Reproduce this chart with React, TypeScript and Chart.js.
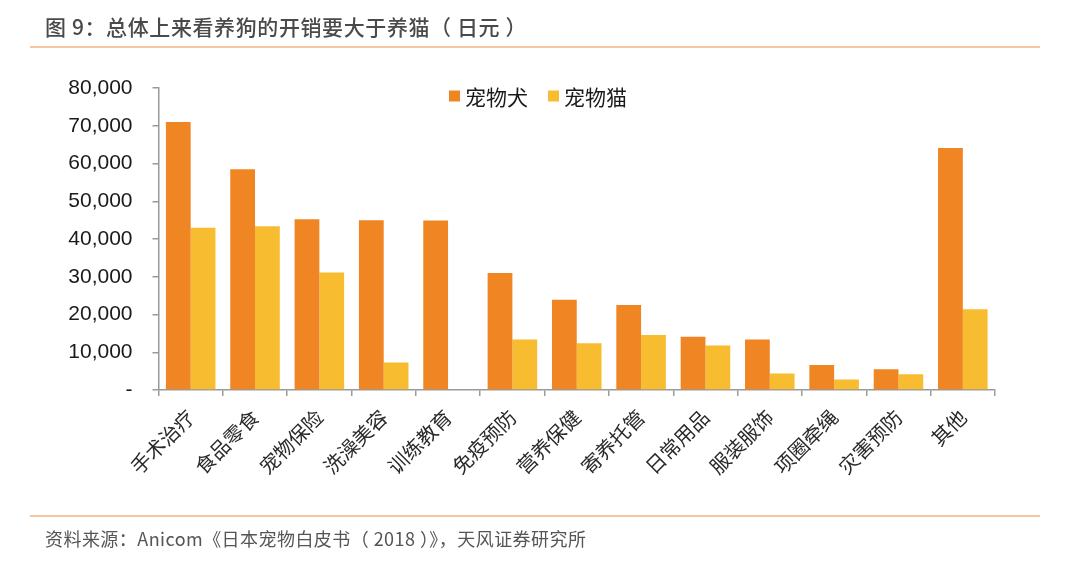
import React, { useEffect, useRef } from "react";
import { Chart, registerables } from "chart.js";

Chart.register(...registerables);

const categories = [
  "手术治疗", "食品零食", "宠物保险", "洗澡美容", "训练教育", "免疫预防", "营养保健",
  "寄养托管", "日常用品", "服装服饰", "项圈牵绳", "灾害预防", "其他",
];
const dogValues = [71000, 58500, 45200, 45000, 44900, 31000, 23900, 22500, 14100, 13400, 6600, 5500, 64100];
const catValues = [43000, 43400, 31100, 7300, 0, 13400, 12400, 14600, 11800, 4400, 2800, 4200, 21400];
const seriesLabels = ["宠物犬", "宠物猫"];
const seriesColors = ["#F08523", "#F7BC2F"];
const yTicks = [0, 10000, 20000, 30000, 40000, 50000, 60000, 70000, 80000];

const W = 1080;
const H = 563;
const AREA_LEFT = 158.5;
const AREA_RIGHT = 995;
const AREA_TOP = 88;
const AREA_BOTTOM = 390;

const legendPlugin = {
  id: "customLegend",
  afterDraw(chart: any) {
    const ctx = chart.ctx;
    const font = '21px "Noto Sans CJK SC", sans-serif';
    ctx.save();
    ctx.font = font;
    const box = 11;
    const gapBox = 5;
    const gapItem = 20;
    const items = chart.data.datasets.map((d: any) => ({
      label: d.label,
      color: d.backgroundColor,
      w: box + gapBox + ctx.measureText(d.label).width,
    }));
    const total = items.reduce((s: number, it: any) => s + it.w, 0) + gapItem * (items.length - 1);
    let x = chart.width / 2 - total / 2 - 2;
    const cy = 96;
    items.forEach((it: any) => {
      ctx.fillStyle = it.color;
      ctx.fillRect(x, cy - box / 2, box, box);
      ctx.fillStyle = "#1a1a1a";
      ctx.textBaseline = "middle";
      ctx.textAlign = "left";
      ctx.fillText(it.label, x + box + gapBox, cy + 1);
      x += it.w + gapItem;
    });
    ctx.restore();
  },
};

export default function App() {
  const ref = useRef<HTMLCanvasElement | null>(null);

  useEffect(() => {
    document.body.style.margin = "0";
    const canvas = ref.current;
    if (!canvas) return;
    const chart = new Chart(canvas, {
      type: "bar",
      data: {
        labels: categories,
        datasets: [
          { label: seriesLabels[0], data: dogValues, backgroundColor: seriesColors[0], categoryPercentage: 0.77, barPercentage: 1.0 },
          { label: seriesLabels[1], data: catValues, backgroundColor: seriesColors[1], categoryPercentage: 0.77, barPercentage: 1.0 },
        ],
      },
      options: {
        responsive: false,
        animation: false,
        layout: { padding: { top: AREA_TOP, right: W - AREA_RIGHT, bottom: 0, left: 0 } },
        plugins: {
          legend: { display: false },
          tooltip: { enabled: false },
          title: { display: false },
        },
        scales: {
          x: {
            type: "category",
            offset: true,
            grid: {
              offset: true,
              drawOnChartArea: false,
              drawTicks: true,
              tickLength: 6,
              color: "#9a9a9a",
              lineWidth: 1.5,
            },
            border: { display: true, color: "#9a9a9a", width: 1.5 },
            ticks: {
              minRotation: 45,
              maxRotation: 45,
              autoSkip: false,
              padding: 9,
              color: "#2a2a2a",
              font: { family: '"Noto Sans CJK SC", sans-serif', size: 20 },
            },
            afterFit(scale: any) {
              scale.height = H - AREA_BOTTOM;
            },
          },
          y: {
            min: 0,
            max: 80000,
            grid: {
              drawOnChartArea: false,
              drawTicks: true,
              tickLength: 6,
              color: "#9a9a9a",
              lineWidth: 1.5,
            },
            border: { display: true, color: "#9a9a9a", width: 1.5 },
            afterBuildTicks(scale: any) {
              scale.ticks = yTicks.map((v) => ({ value: v }));
            },
            ticks: {
              padding: 20,
              color: "#1a1a1a",
              font: { family: '"Liberation Sans", Arial, sans-serif', size: 21 },
              callback: (v: any) => (Number(v) === 0 ? "-" : Number(v).toLocaleString("en-US")),
            },
            afterFit(scale: any) {
              scale.width = AREA_LEFT;
            },
          },
        },
      },
      plugins: [legendPlugin],
    });
    return () => chart.destroy();
  }, []);

  return (
    <div style={{ position: "relative", width: W, height: H, background: "#fff", overflow: "hidden" }}>
      <canvas ref={ref} width={W} height={H} style={{ position: "absolute", left: 0, top: 0, width: W, height: H }} />
      <div
        style={{
          position: "absolute",
          left: 45,
          top: 12,
          fontFamily: '"Noto Sans CJK SC", sans-serif',
          fontSize: 21,
          fontWeight: 500,
          letterSpacing: "0.6px",
          color: "#4a4a4a",
          whiteSpace: "nowrap",
          lineHeight: "28px",
        }}
      >
        图 9：总体上来看养狗的开销要大于养猫（ 日元 ）
      </div>
      <div style={{ position: "absolute", left: 30, top: 45.5, width: 1010, height: 2, background: "#F5C6A0" }} />
      <div style={{ position: "absolute", left: 30, top: 514.5, width: 1010, height: 2, background: "#F5C6A0" }} />
      <div
        style={{
          position: "absolute",
          left: 45,
          top: 526,
          fontFamily: '"Noto Sans CJK SC", sans-serif',
          fontSize: 18,
          letterSpacing: "0.45px",
          color: "#555",
          whiteSpace: "nowrap",
          lineHeight: "24px",
        }}
      >
        资料来源：Anicom《日本宠物白皮书（ 2018 ）》，天风证券研究所
      </div>
    </div>
  );
}
